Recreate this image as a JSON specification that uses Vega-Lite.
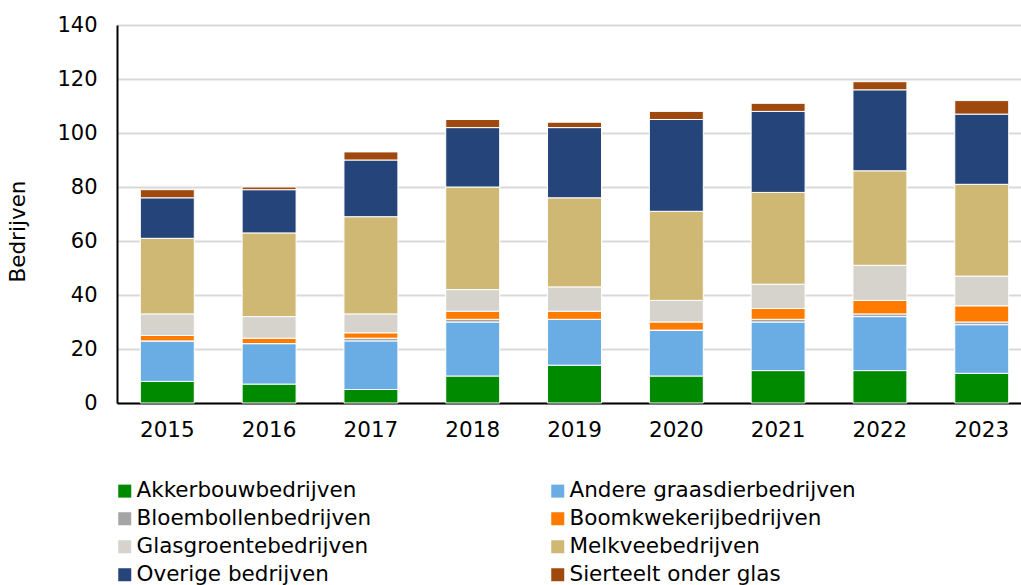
{
  "$schema": "https://vega.github.io/schema/vega-lite/v6.json",
  "autosize": {"type": "none"},
  "width": 904,
  "height": 378,
  "padding": {"left": 117, "top": 25, "right": 0, "bottom": 182},
  "background": "white",
  "config": {
    "font": "DejaVu Sans",
    "view": {"stroke": null}
  },
  "data": {
    "values": [
      {"jaar": "2015", "type": "Akkerbouwbedrijven", "aantal": 8},
      {"jaar": "2015", "type": "Andere graasdierbedrijven", "aantal": 15},
      {"jaar": "2015", "type": "Bloembollenbedrijven", "aantal": 0},
      {"jaar": "2015", "type": "Boomkwekerijbedrijven", "aantal": 2},
      {"jaar": "2015", "type": "Glasgroentebedrijven", "aantal": 8},
      {"jaar": "2015", "type": "Melkveebedrijven", "aantal": 28},
      {"jaar": "2015", "type": "Overige bedrijven", "aantal": 15},
      {"jaar": "2015", "type": "Sierteelt onder glas", "aantal": 3},
      {"jaar": "2016", "type": "Akkerbouwbedrijven", "aantal": 7},
      {"jaar": "2016", "type": "Andere graasdierbedrijven", "aantal": 15},
      {"jaar": "2016", "type": "Bloembollenbedrijven", "aantal": 0},
      {"jaar": "2016", "type": "Boomkwekerijbedrijven", "aantal": 2},
      {"jaar": "2016", "type": "Glasgroentebedrijven", "aantal": 8},
      {"jaar": "2016", "type": "Melkveebedrijven", "aantal": 31},
      {"jaar": "2016", "type": "Overige bedrijven", "aantal": 16},
      {"jaar": "2016", "type": "Sierteelt onder glas", "aantal": 1},
      {"jaar": "2017", "type": "Akkerbouwbedrijven", "aantal": 5},
      {"jaar": "2017", "type": "Andere graasdierbedrijven", "aantal": 18},
      {"jaar": "2017", "type": "Bloembollenbedrijven", "aantal": 1},
      {"jaar": "2017", "type": "Boomkwekerijbedrijven", "aantal": 2},
      {"jaar": "2017", "type": "Glasgroentebedrijven", "aantal": 7},
      {"jaar": "2017", "type": "Melkveebedrijven", "aantal": 36},
      {"jaar": "2017", "type": "Overige bedrijven", "aantal": 21},
      {"jaar": "2017", "type": "Sierteelt onder glas", "aantal": 3},
      {"jaar": "2018", "type": "Akkerbouwbedrijven", "aantal": 10},
      {"jaar": "2018", "type": "Andere graasdierbedrijven", "aantal": 20},
      {"jaar": "2018", "type": "Bloembollenbedrijven", "aantal": 1},
      {"jaar": "2018", "type": "Boomkwekerijbedrijven", "aantal": 3},
      {"jaar": "2018", "type": "Glasgroentebedrijven", "aantal": 8},
      {"jaar": "2018", "type": "Melkveebedrijven", "aantal": 38},
      {"jaar": "2018", "type": "Overige bedrijven", "aantal": 22},
      {"jaar": "2018", "type": "Sierteelt onder glas", "aantal": 3},
      {"jaar": "2019", "type": "Akkerbouwbedrijven", "aantal": 14},
      {"jaar": "2019", "type": "Andere graasdierbedrijven", "aantal": 17},
      {"jaar": "2019", "type": "Bloembollenbedrijven", "aantal": 0},
      {"jaar": "2019", "type": "Boomkwekerijbedrijven", "aantal": 3},
      {"jaar": "2019", "type": "Glasgroentebedrijven", "aantal": 9},
      {"jaar": "2019", "type": "Melkveebedrijven", "aantal": 33},
      {"jaar": "2019", "type": "Overige bedrijven", "aantal": 26},
      {"jaar": "2019", "type": "Sierteelt onder glas", "aantal": 2},
      {"jaar": "2020", "type": "Akkerbouwbedrijven", "aantal": 10},
      {"jaar": "2020", "type": "Andere graasdierbedrijven", "aantal": 17},
      {"jaar": "2020", "type": "Bloembollenbedrijven", "aantal": 0},
      {"jaar": "2020", "type": "Boomkwekerijbedrijven", "aantal": 3},
      {"jaar": "2020", "type": "Glasgroentebedrijven", "aantal": 8},
      {"jaar": "2020", "type": "Melkveebedrijven", "aantal": 33},
      {"jaar": "2020", "type": "Overige bedrijven", "aantal": 34},
      {"jaar": "2020", "type": "Sierteelt onder glas", "aantal": 3},
      {"jaar": "2021", "type": "Akkerbouwbedrijven", "aantal": 12},
      {"jaar": "2021", "type": "Andere graasdierbedrijven", "aantal": 18},
      {"jaar": "2021", "type": "Bloembollenbedrijven", "aantal": 1},
      {"jaar": "2021", "type": "Boomkwekerijbedrijven", "aantal": 4},
      {"jaar": "2021", "type": "Glasgroentebedrijven", "aantal": 9},
      {"jaar": "2021", "type": "Melkveebedrijven", "aantal": 34},
      {"jaar": "2021", "type": "Overige bedrijven", "aantal": 30},
      {"jaar": "2021", "type": "Sierteelt onder glas", "aantal": 3},
      {"jaar": "2022", "type": "Akkerbouwbedrijven", "aantal": 12},
      {"jaar": "2022", "type": "Andere graasdierbedrijven", "aantal": 20},
      {"jaar": "2022", "type": "Bloembollenbedrijven", "aantal": 1},
      {"jaar": "2022", "type": "Boomkwekerijbedrijven", "aantal": 5},
      {"jaar": "2022", "type": "Glasgroentebedrijven", "aantal": 13},
      {"jaar": "2022", "type": "Melkveebedrijven", "aantal": 35},
      {"jaar": "2022", "type": "Overige bedrijven", "aantal": 30},
      {"jaar": "2022", "type": "Sierteelt onder glas", "aantal": 3},
      {"jaar": "2023", "type": "Akkerbouwbedrijven", "aantal": 11},
      {"jaar": "2023", "type": "Andere graasdierbedrijven", "aantal": 18},
      {"jaar": "2023", "type": "Bloembollenbedrijven", "aantal": 1},
      {"jaar": "2023", "type": "Boomkwekerijbedrijven", "aantal": 6},
      {"jaar": "2023", "type": "Glasgroentebedrijven", "aantal": 11},
      {"jaar": "2023", "type": "Melkveebedrijven", "aantal": 34},
      {"jaar": "2023", "type": "Overige bedrijven", "aantal": 26},
      {"jaar": "2023", "type": "Sierteelt onder glas", "aantal": 5}
    ]
  },
  "mark": {"type": "bar", "stroke": "white", "strokeWidth": 1},
  "encoding": {
    "x": {
      "field": "jaar",
      "type": "nominal",
      "scale": {"paddingInner": 0.47, "paddingOuter": 0.175, "align": 0.655},
      "axis": {
        "title": null,
        "labelAngle": 0,
        "labelFontSize": 21.5,
        "labelColor": "black",
        "labelPadding": 16,
        "ticks": false,
        "domainColor": "black",
        "domainWidth": 2
      }
    },
    "y": {
      "field": "aantal",
      "type": "quantitative",
      "stack": "zero",
      "scale": {"domain": [0, 140]},
      "axis": {
        "title": "Bedrijven",
        "titleFontSize": 21.5,
        "titleFontWeight": "normal",
        "titleColor": "black",
        "titlePadding": 27,
        "titleY": 206,
        "values": [0, 20, 40, 60, 80, 100, 120, 140],
        "labelFontSize": 21,
        "labelColor": "black",
        "labelPadding": 20,
        "ticks": false,
        "domainColor": "black",
        "domainWidth": 2,
        "gridColor": "#d9d9d9",
        "gridWidth": 2
      }
    },
    "color": {
      "field": "type",
      "type": "nominal",
      "scale": {
        "domain": ["Akkerbouwbedrijven", "Andere graasdierbedrijven", "Bloembollenbedrijven", "Boomkwekerijbedrijven", "Glasgroentebedrijven", "Melkveebedrijven", "Overige bedrijven", "Sierteelt onder glas"],
        "range": ["#008a00", "#6aade4", "#a5a5a5", "#ff7b00", "#d6d3cc", "#cfb874", "#254479", "#a0490f"]
      },
      "legend": {
        "title": null,
        "orient": "none",
        "legendX": -3,
        "legendY": 455,
        "direction": "horizontal",
        "columns": 2,
        "columnPadding": 175,
        "rowPadding": 5,
        "symbolType": "square",
        "symbolSize": 169,
        "symbolStrokeWidth": 0,
        "labelFontSize": 21.5,
        "labelColor": "black",
        "labelOffset": 1,
        "labelLimit": 400
      }
    },
    "order": {"field": "type", "sort": "ascending"}
  }
}
